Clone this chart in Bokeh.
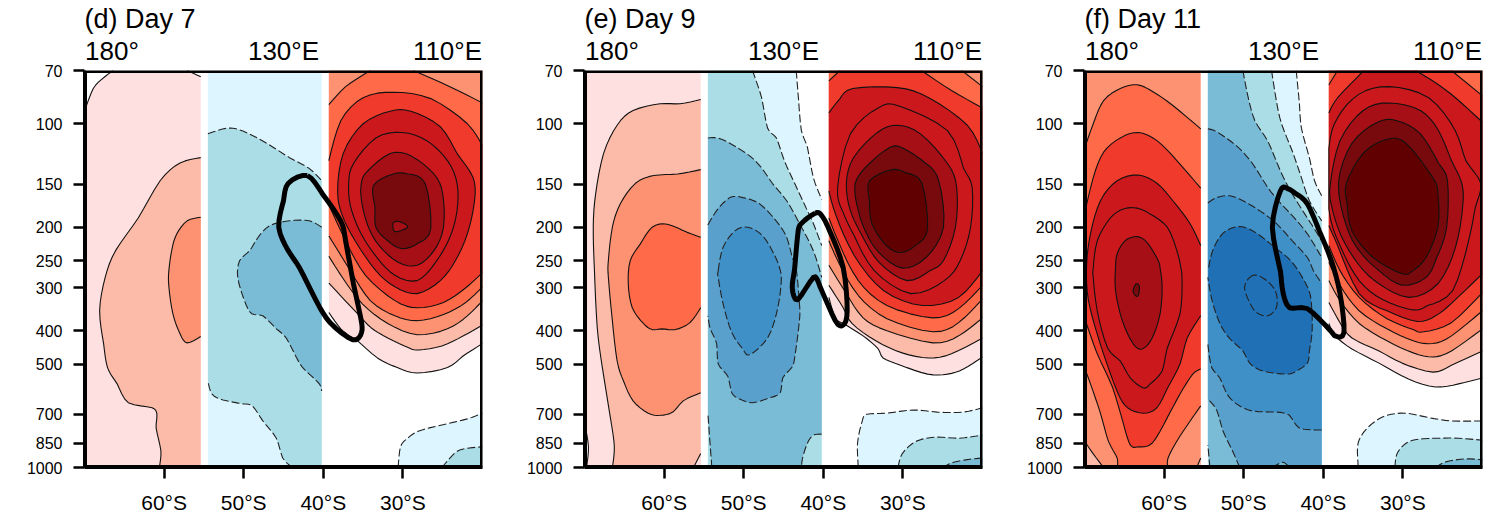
import numpy as np
from bokeh.plotting import figure
from bokeh.layouts import row
from bokeh.models import BoxAnnotation, FixedTicker, LinearAxis, Range1d
from bokeh.embed import file_html
from bokeh.resources import INLINE

# ---------- axes ----------
LAT_TICKS = [-60, -50, -40, -30]
LAT_LABELS = ["60°S", "50°S", "40°S", "30°S"]
P_TICKS = [70, 100, 150, 200, 250, 300, 400, 500, 700, 850, 1000]
TITLES = ["(d) Day 7", "(e) Day 9", "(f) Day 11"]
TOP_LABELS = ["180°", "130°E", "110°E"]
TOP_LATS = [-66.55, -45, -24.4]

COLORS = {"W": "#FFFFFF",
          "R1": "#FFE0E0", "R2": "#FCBBA8", "R3": "#FC9272", "R4": "#FF6A48", "R5": "#F03B2C",
          "R6": "#CB181D", "R7": "#CB181D", "R8": "#A50F15", "R9": "#780A0E", "R10": "#600000",
          "B1": "#DDF5FF", "B2": "#ABDDE6", "B3": "#7ABCD6", "B4": "#5AA0CC", "B5": "#4090C8", "B6": "#2070B5"}
ZONES = {"L": (-70.0, -55.4), "M": (-54.5, -40.2), "R": (-39.3, -20.0)}

# ---------- panel (d): contours as (latitude, hPa) ----------
d_w1 = [(-70, 92), (-68.9, 79), (-67.6, 73.5), (-66.4, 70)]
d_w2 = [(-57.1, 70), (-55.4, 73)]
d_l2 = [(-55.4, 125.5), (-58, 130), (-60.5, 146.5), (-63.25, 188), (-66.1, 234), (-67.4, 280), (-68.1, 350),
        (-67.6, 436), (-67.1, 513), (-65.9, 571), (-64.5, 648), (-61.5, 670), (-60.9, 706), (-61, 768),
        (-60.4, 895), (-60.6, 1000)]
d_l3 = [(-55.4, 187), (-57.1, 191.6), (-58.4, 209), (-59, 231), (-59.4, 267), (-59.4, 298), (-58.9, 357),
        (-58, 408), (-57.1, 434), (-55.4, 416)]
d_m2a = [(-54.5, 107), (-52.1, 103), (-50.1, 105), (-47.1, 114), (-44.25, 125.5), (-41.75, 135), (-40.2, 146.5)]
d_m2b = [(-43.9, 1000), (-45.1, 938), (-45.9, 822), (-47.6, 732), (-48.9, 662), (-50.1, 653), (-52.6, 636),
         (-54, 611), (-54.5, 560)]
d_m3 = [(-40.2, 200), (-41.75, 191.6), (-44.25, 191.6), (-46.75, 198), (-48.25, 215), (-49.25, 234), (-50.5, 250),
        (-50.75, 280), (-49.9, 327), (-49, 357), (-47.6, 362), (-45.9, 395), (-44.6, 422), (-43, 497),
        (-41.75, 535), (-40.5, 571), (-40.2, 599)]
d_r1 = [(-39.3, 354), (-37.8, 395), (-36.3, 420), (-35.7, 428), (-33.2, 480), (-30.7, 512), (-28.2, 531),
        (-24.4, 512), (-22.4, 473), (-20, 436)]
d_r2 = [(-39.3, 291), (-35.7, 357), (-34, 392), (-31.9, 420), (-29.2, 449), (-28, 455), (-25.1, 443),
        (-22.4, 414), (-20, 385)]
d_r3 = [(-39.3, 243), (-37.6, 280), (-35.1, 334), (-31.9, 381), (-28.2, 411), (-24.4, 395), (-21.9, 362), (-20, 327)]
d_r4a = [(-39.3, 212), (-36.6, 267.5), (-34.1, 327), (-31, 362), (-28.2, 374), (-24.9, 359), (-22.1, 331), (-20, 298)]
d_r4b = [(-20, 87), (-24.1, 78), (-28.7, 70)]
d_r4c = [(-34.1, 70), (-37.2, 78), (-39.3, 88)]
d_r5a = [(-39.3, 128), (-37.8, 98), (-35, 84), (-31.2, 81), (-26.5, 84.5), (-21.9, 100), (-20, 116)]
d_r5b = [(-20, 271), (-22.1, 300), (-24.9, 331), (-28.2, 343), (-31, 327), (-34.7, 276), (-37.2, 219), (-39.3, 172)]
d_r6 = [(-38.2, 157), (-37.5, 122), (-35, 100), (-31.6, 92), (-29, 92), (-25.3, 102), (-23.2, 122), (-21.2, 143),
        (-21, 167.5), (-21.9, 209), (-23.4, 250), (-25.3, 286), (-28.2, 312), (-31, 298), (-33.4, 267.5),
        (-36, 219), (-37.6, 185)]
d_r7 = [(-36.8, 148), (-36.2, 130.5), (-33.4, 110), (-30.1, 106), (-27, 112), (-24.4, 128), (-23.2, 149), (-23.2, 179),
        (-24.1, 214), (-25.9, 253), (-28.2, 286), (-31, 276), (-33.2, 246), (-35.3, 208), (-36.6, 173)]
d_r8 = [(-35.2, 148), (-34.4, 137), (-31.6, 122), (-29, 124), (-26.1, 140), (-25, 160), (-24.9, 200), (-26.1, 234),
        (-28.2, 258), (-30.6, 253), (-33, 226), (-34.4, 198), (-35.2, 167.5)]
d_r9 = [(-33.7, 151), (-31.2, 140), (-29.4, 140), (-27.2, 149), (-26.5, 202), (-28, 222), (-30.1, 231), (-31.9, 219),
        (-33.4, 200), (-33.5, 175)]
d_blob = [(-31.2, 194), (-30.3, 193), (-29.4, 200), (-31, 206)]
d_b1 = [(-30.6, 1000), (-30.3, 870), (-29.4, 822), (-28, 783), (-25.1, 752), (-21.9, 722), (-20, 695)]
d_b2 = [(-25.1, 1000), (-23.6, 913), (-22.4, 883), (-20, 870)]
d_thick = [(-42, 141.5), (-40.1, 160), (-37.8, 192), (-37.2, 219), (-36.2, 293), (-35.3, 367), (-35.2, 405),
           (-36.3, 425), (-39.1, 380), (-40.9, 327), (-43, 262), (-44.4, 234), (-45.6, 200), (-45, 167.5), (-44.4, 149)]

# ---------- panel (e) ----------
e_w = [(-70, 740), (-69.5, 870), (-69.75, 1000)]
e_l2 = [(-55.4, 85), (-58, 87.5), (-60.5, 87.5), (-63.9, 91.5), (-65.9, 101), (-67.6, 122), (-68.6, 160), (-68.9, 200),
        (-68.75, 267.5), (-68.4, 392), (-67.75, 513), (-66.75, 716), (-66.25, 870), (-66.5, 1000)]
e_l1c = [(-55.4, 910), (-56.3, 1000)]
e_l3 = [(-55.4, 136), (-58.3, 140), (-61.3, 141.5), (-63.6, 149), (-65.5, 171), (-66.5, 200), (-67, 250), (-67, 280),
        (-66.5, 374), (-65.9, 490), (-65.1, 560), (-63.9, 640), (-62, 695), (-60.5, 705), (-58.9, 690), (-57.6, 640),
        (-55.4, 606)]
e_l4 = [(-55.4, 214), (-57.1, 207), (-59.6, 196), (-61.5, 200), (-63, 224), (-64.25, 250), (-64.5, 292), (-64, 343),
        (-62.6, 381), (-61.5, 397), (-60.25, 395), (-58.6, 397), (-56.75, 379), (-55.4, 343)]
e_m1 = [(-43.4, 70), (-43.1, 85.6), (-42.75, 104.7), (-42, 117), (-41.25, 143.5), (-40.2, 166)]
e_m2 = [(-48.9, 70), (-47.75, 84), (-47, 103), (-45.9, 110), (-44.9, 128), (-43.6, 149), (-42, 179), (-41.25, 195), (-40.2, 226)]
e_m3a = [(-54.5, 110), (-53.3, 110), (-51.75, 114), (-49.25, 124), (-47.75, 134.5), (-46.4, 149), (-44.6, 167.5),
         (-43, 195), (-41.25, 234), (-40.2, 280)]
e_m3b = [(-40.2, 800), (-41.25, 805), (-42, 850), (-42.6, 938), (-42.75, 1000)]
e_m3c = [(-54, 1000), (-54.25, 838), (-54.5, 695)]
e_m4 = [(-54.5, 197), (-53.4, 179), (-51.75, 164), (-50.1, 164), (-48, 171), (-45.9, 192), (-44.6, 214), (-43.9, 245),
        (-43.4, 264), (-43, 333), (-43, 374), (-43.6, 480), (-44, 513), (-45.1, 549), (-45.4, 606), (-46.75, 627),
        (-48.9, 648), (-50.5, 632), (-51.5, 606), (-52, 542), (-53.2, 500), (-53.4, 436), (-54.2, 395), (-54.5, 362)]
e_m5 = [(-53.2, 267.5), (-52.6, 229), (-51.1, 205), (-49.5, 200), (-47.6, 212), (-46.1, 242), (-45.4, 267.5), (-45.3, 292),
        (-45.8, 350), (-47, 420), (-49.25, 470), (-50.1, 452), (-51.5, 405), (-52.6, 333), (-53.2, 280)]
e_r1 = [(-39.3, 320), (-38.5, 367), (-37.5, 381), (-35, 414), (-33.1, 452), (-32.5, 480), (-30.3, 504), (-26.9, 535),
        (-24.4, 535), (-22.4, 517), (-20, 477)]
e_r2 = [(-39.3, 295), (-37.5, 343), (-36.4, 381), (-33.4, 428), (-30.1, 464), (-26.75, 480), (-23.9, 467), (-20, 420)]
e_r3 = [(-39.3, 258), (-37.1, 312), (-35, 367), (-32, 400), (-26.25, 434), (-23, 414), (-20, 367)]
e_r4a = [(-39.3, 219), (-37.9, 258), (-35.6, 316), (-32, 369), (-26.25, 403), (-23, 379), (-20, 323)]
e_r4b = [(-20, 78), (-22.6, 70)]
e_r5a = [(-39.3, 188), (-37.9, 226), (-35.6, 286), (-32, 338), (-26.25, 367), (-23, 345), (-20, 295)]
e_r5b = [(-20, 90), (-23.9, 80), (-27.7, 70)]
e_r5c = [(-37.9, 70), (-39.3, 75)]
e_r6a = [(-39.3, 93), (-37.9, 84.5), (-36.3, 79), (-30.7, 78.5), (-26.75, 84), (-21.9, 101), (-20, 122)]
e_r6b = [(-20, 267.5), (-23, 320), (-27.5, 338), (-32.4, 306), (-36.1, 242), (-38.4, 185), (-39.3, 157)]
e_r7 = [(-38.2, 153), (-36.6, 107), (-33, 89.7), (-30.4, 89), (-24.4, 104.7), (-22.4, 134.5), (-21.3, 153), (-21.5, 200),
        (-22.8, 250), (-24.8, 286), (-29, 312), (-33.6, 267.5), (-36.1, 212), (-37.6, 179)]
e_r8 = [(-37.1, 149), (-36.2, 125.5), (-33.2, 106), (-30.7, 101), (-27.8, 107), (-24.4, 130.5), (-23.25, 153), (-23.4, 200),
        (-24.9, 250), (-26.6, 267.5), (-29.5, 286), (-33, 253), (-35.1, 212), (-36.6, 179)]
e_r9 = [(-36, 149), (-34.2, 130.5), (-31.7, 117.5), (-30.1, 117.5), (-27.1, 130.5), (-25.5, 146.5), (-24.9, 200), (-27.1, 245),
        (-30.1, 263), (-33, 237), (-34.6, 208), (-35.6, 179)]
e_r10 = [(-34.2, 146.5), (-31.4, 136), (-29.6, 139), (-27.6, 149), (-26.9, 202), (-28.2, 224), (-30.2, 237), (-32.1, 226),
         (-33.9, 195), (-34.2, 167.5)]
e_b1 = [(-35.6, 1000), (-35.7, 850), (-35.1, 732), (-34.5, 700), (-32, 695), (-28.7, 680), (-25.7, 690), (-22.4, 690), (-20, 670)]
e_b2 = [(-30.6, 1000), (-30.1, 913), (-28.3, 838), (-25.7, 816), (-23, 822), (-20, 805)]
e_b3 = [(-25, 1000), (-23.9, 970), (-22.1, 950), (-20, 938)]
e_thick = [(-41, 182), (-42.75, 195), (-43.2, 209), (-43.6, 264), (-43.9, 300), (-43.2, 325), (-41.25, 280), (-40.4, 298),
           (-38.5, 374), (-37.5, 385), (-37, 350), (-37.5, 262), (-39.2, 205), (-40.2, 185)]

# ---------- panel (f) ----------
f_l2a = [(-70, 838), (-68.9, 913), (-67.6, 1000)]
f_l2b = [(-55.4, 938), (-55.9, 1000)]
f_l4a = [(-70, 118), (-68.9, 100), (-67.6, 85.6), (-65.5, 79), (-63.4, 77), (-61.4, 80.7), (-58.9, 88.5), (-55.4, 103.5)]
f_l4b = [(-55.4, 662), (-58, 810), (-59.5, 938), (-59.5, 1000)]
f_l4c = [(-65.9, 1000), (-65.9, 938), (-67, 838), (-68, 695), (-69.25, 571), (-70, 513)]
f_l5a = [(-70, 183), (-68.9, 143.5), (-67.6, 121), (-65.5, 110), (-63.25, 106), (-60.9, 112), (-58.4, 128), (-55.4, 154)]
f_l5b = [(-55.4, 517), (-56.4, 535), (-58, 611), (-59.6, 716), (-61.5, 850), (-63.25, 870), (-64.25, 860), (-65.1, 748),
         (-66.5, 583), (-68.4, 467), (-70, 367)]
f_l6 = [(-55.4, 226), (-56.75, 195), (-58.9, 167.5), (-60.9, 149), (-63.25, 141), (-65.9, 146.5), (-68, 167.5), (-69.25, 209),
        (-69.75, 262), (-69.5, 327), (-68.25, 420), (-67, 513), (-65.75, 611), (-64.6, 670), (-62.6, 695), (-60.9, 670),
        (-59.5, 583), (-58, 500), (-57.1, 420), (-55.4, 362)]
f_l7 = [(-68.9, 263), (-68.4, 219), (-66.75, 188), (-65.1, 177), (-63.4, 176), (-61.75, 183), (-59.6, 200), (-58.4, 234),
        (-57.9, 262), (-57.75, 286), (-58, 357), (-59.6, 449), (-60.25, 524), (-61.75, 571), (-62.6, 587), (-64.25, 549),
        (-65.5, 490), (-67.1, 449), (-68.4, 350), (-68.9, 280)]
f_l8 = [(-66.1, 263), (-65.9, 239), (-64.9, 219), (-63.4, 213), (-62.1, 222), (-60.75, 250), (-60.5, 264), (-60.25, 298),
        (-60.5, 357), (-61.5, 420), (-62.75, 452), (-63.9, 436), (-65.25, 374), (-66.1, 306)]
f_l9 = [(-63.5, 292), (-63.1, 298), (-63.25, 316), (-63.6, 316), (-63.9, 306)]
f_m1 = [(-43.4, 70), (-43, 87.5), (-42.75, 103), (-41.75, 125.5), (-41.1, 146.5), (-40.2, 162)]
f_m2 = [(-46.5, 70), (-45.9, 85.6), (-45.25, 100), (-43.9, 120), (-42.75, 143.5), (-41.75, 167.5), (-40.2, 191.6)]
f_m3a = [(-50.1, 70), (-49.5, 82.5), (-48.6, 98), (-47, 112), (-45.4, 137), (-43.9, 160), (-42, 188), (-41.25, 200), (-40.2, 219)]
f_m3b = [(-54.25, 1000), (-54.5, 860)]
f_m4a = [(-54.5, 103.5), (-53.4, 105.5), (-50.9, 116), (-48.9, 130.5), (-47, 153), (-45.4, 170), (-43.9, 185), (-42, 209), (-40.2, 245)]
f_m4b = [(-50.5, 1000), (-51.4, 895), (-52.6, 783), (-53.4, 680), (-54.5, 632)]
f_m3c = [(-46.4, 1000), (-45.1, 965), (-44.25, 1000)]
f_m5a = [(-54.5, 170), (-53.4, 164), (-51.75, 162), (-50.1, 167.5), (-48, 179), (-45.9, 195), (-43.9, 219), (-42, 245),
         (-41.25, 267.5), (-40.2, 291)]
f_m5b = [(-40.2, 778), (-43, 768), (-44.25, 705), (-45.9, 690), (-48.9, 685), (-50.9, 653), (-52.1, 611), (-53, 549),
         (-54, 513), (-54.4, 458), (-54.5, 436)]
f_m6 = [(-54.4, 262), (-53.9, 234), (-52.6, 208), (-50.5, 199), (-48.4, 208), (-46.1, 229), (-43.9, 253), (-42, 298),
        (-41.5, 333), (-41.4, 400), (-41.75, 458), (-42, 497), (-43.4, 524), (-44.6, 535), (-47.6, 524), (-49.25, 497),
        (-50.1, 458), (-51.75, 422), (-53, 381), (-54, 325), (-54.5, 280)]
f_m7 = [(-49.25, 280), (-48.25, 276), (-46.75, 291), (-45.9, 312), (-45.9, 343), (-47, 362), (-48.4, 354), (-49.25, 331), (-49.9, 300)]
f_r1 = [(-39.3, 381), (-38.5, 414), (-36.4, 452), (-33, 497), (-29.3, 553), (-25.9, 583), (-23, 571), (-20, 549)]
f_r2 = [(-39.3, 331), (-37.9, 379), (-36.4, 420), (-33, 458), (-30.1, 497), (-26.25, 528), (-23.9, 504), (-20, 458)]
f_r3 = [(-39.3, 286), (-37.9, 327), (-35.5, 381), (-32, 428), (-28.7, 464), (-26.25, 477), (-23.9, 458), (-20, 395)]
f_r4 = [(-39.3, 253), (-37.9, 295), (-35.5, 350), (-32, 395), (-28.7, 428), (-26.25, 436), (-23.9, 414), (-20, 350)]
f_r5a = [(-39.3, 226), (-37.9, 267.5), (-35.5, 320), (-32, 369), (-28.7, 397), (-27.4, 403), (-23.9, 379), (-20, 310)]
f_r5b = [(-20, 83), (-23.9, 70)]
f_r5c = [(-38.2, 70), (-39.3, 77)]
f_r6a = [(-39.3, 93), (-38.2, 84), (-34.9, 70)]
f_r6b = [(-28.4, 70), (-25.9, 76), (-23.4, 84), (-20, 99)]
f_r6c = [(-20, 273), (-23.9, 333), (-25.9, 362), (-28.2, 376), (-32, 350), (-35.5, 312), (-38.2, 226), (-39.3, 198)]
f_r7 = [(-39.3, 118), (-38.2, 96), (-35.5, 82), (-31.75, 78), (-26.75, 84), (-23.4, 105), (-22.1, 128), (-20.2, 149),
        (-20.9, 175), (-21.75, 219), (-23.75, 306), (-26.9, 338), (-28.75, 348), (-32.5, 325), (-35.5, 286), (-37.9, 226), (-39.3, 177)]
f_r8 = [(-39.1, 149), (-37.9, 112), (-35, 91.5), (-31.75, 87), (-27.8, 91.5), (-25.5, 105), (-23.9, 128), (-22.6, 149),
        (-22.5, 175), (-23.4, 229), (-25.6, 292), (-29.25, 320), (-33, 292), (-35.5, 258), (-37.75, 212), (-39, 172)]
f_r9 = [(-38.1, 149), (-36.4, 114), (-33.2, 99), (-30.75, 98), (-27.8, 107), (-25.5, 130.5), (-24.4, 146.5), (-24.5, 200),
        (-25.75, 245), (-27.1, 280), (-30.1, 295), (-33, 267.5), (-35.5, 234), (-37.1, 198)]
f_r10 = [(-37.1, 149), (-35, 122), (-32, 111), (-29.6, 114), (-26.25, 143.5), (-25.6, 160), (-25.6, 200), (-27.1, 245),
         (-28.75, 267.5), (-30.1, 273), (-33.75, 245), (-36.4, 205), (-37, 171)]
f_b1 = [(-35.6, 1000), (-35.7, 870), (-35.1, 800), (-33.75, 742), (-32, 705), (-29.6, 695), (-26.75, 716), (-23.9, 732), (-20, 732)]
f_b2 = [(-31, 1000), (-30.75, 913), (-29.6, 850), (-28, 827), (-25.5, 822), (-23, 822), (-20, 833)]
f_b3 = [(-25.9, 1000), (-24.6, 963), (-22.1, 944), (-20, 950)]
f_thick = [(-44.6, 154), (-45.4, 157), (-46.4, 200), (-45.4, 267.5), (-45.1, 306), (-44.25, 343), (-42, 345), (-39.1, 400),
           (-38.5, 414), (-37.4, 405), (-37.9, 312), (-39, 250), (-40.5, 205), (-42, 171), (-43.4, 160)]

# ---------- drawing order: (colour, zone, path, closed ring?) ----------
PANEL_D = dict(bg={"L": "R1", "M": "B1"}, thick=d_thick, layers=[
    ("W", "L", [d_w1, "TL"], 0), ("W", "L", [d_w2, "TR"], 0),
    ("R2", "L", [d_l2, "BR"], 0), ("R3", "L", [d_l3], 0),
    ("B2", "M", [d_m2a, "BR", d_m2b], 0), ("B3", "M", [d_m3], 0),
    ("R1", "R", [d_r1, "TR", "TL"], 0), ("R2", "R", [d_r2, "TR", "TL"], 0), ("R3", "R", [d_r3, "TR", "TL"], 0),
    ("R4", "R", [d_r4a, d_r4b, d_r4c], 0), ("R5", "R", [d_r5a, d_r5b], 0),
    ("R6", "R", [d_r6], 1), ("R7", "R", [d_r7], 1), ("R8", "R", [d_r8], 1), ("R9", "R", [d_r9], 1), ("R8", "R", [d_blob], 1),
    ("B1", "R", [d_b1, "BR"], 0), ("B2", "R", [d_b2, "BR"], 0)])
PANEL_E = dict(bg={"L": "R1"}, thick=e_thick, layers=[
    ("W", "L", [e_w, "BL"], 0), ("R2", "L", [e_l2, "BR"], 0), ("R1", "L", [e_l1c, "BR"], 0),
    ("R3", "L", [e_l3], 0), ("R4", "L", [e_l4], 0),
    ("B1", "M", [e_m1, "BR", "BL", "TL"], 0), ("B2", "M", [e_m2, "BR", "BL", "TL"], 0),
    ("B3", "M", [e_m3a, e_m3b, e_m3c], 0), ("B4", "M", [e_m4], 0), ("B5", "M", [e_m5], 1),
    ("R1", "R", [e_r1, "TR", "TL"], 0), ("R2", "R", [e_r2, "TR", "TL"], 0), ("R3", "R", [e_r3, "TR", "TL"], 0),
    ("R4", "R", [e_r4a, e_r4b, "TL"], 0), ("R5", "R", [e_r5a, e_r5b, e_r5c], 0), ("R6", "R", [e_r6a, e_r6b], 0),
    ("R7", "R", [e_r7], 1), ("R8", "R", [e_r8], 1), ("R9", "R", [e_r9], 1), ("R10", "R", [e_r10], 1),
    ("B1", "R", [e_b1, "BR"], 0), ("B2", "R", [e_b2, "BR"], 0), ("B3", "R", [e_b3, "BR"], 0)])
PANEL_F = dict(bg={"L": "R3"}, thick=f_thick, layers=[
    ("R2", "L", [f_l2a, "BL"], 0), ("R2", "L", [f_l2b, "BR"], 0),
    ("R4", "L", [f_l4a, f_l4b, f_l4c], 0), ("R5", "L", [f_l5a, f_l5b], 0), ("R6", "L", [f_l6], 0),
    ("R7", "L", [f_l7], 1), ("R8", "L", [f_l8], 1), ("R9", "L", [f_l9], 1),
    ("B1", "M", [f_m1, "BR", "BL", "TL"], 0), ("B2", "M", [f_m2, "BR", "BL", "TL"], 0),
    ("B3", "M", [f_m3a, "BR", f_m3b, "TL"], 0), ("B4", "M", [f_m4a, "BR", f_m4b], 0), ("B3", "M", [f_m3c], 0),
    ("B5", "M", [f_m5a, f_m5b], 0), ("B6", "M", [f_m6], 0), ("B6", "M", [f_m7], 1),
    ("R1", "R", [f_r1, "TR", "TL"], 0), ("R2", "R", [f_r2, "TR", "TL"], 0), ("R3", "R", [f_r3, "TR", "TL"], 0),
    ("R4", "R", [f_r4, "TR", "TL"], 0), ("R5", "R", [f_r5a, f_r5b, f_r5c], 0), ("R6", "R", [f_r6a, f_r6b, f_r6c], 0),
    ("R7", "R", [f_r7], 1), ("R8", "R", [f_r8], 1), ("R9", "R", [f_r9], 1), ("R10", "R", [f_r10], 1),
    ("B1", "R", [f_b1, "BR"], 0), ("B2", "R", [f_b2, "BR"], 0), ("B3", "R", [f_b3, "BR"], 0)])


def round_off(pts, closed, passes=2):
    """Curve through the hand-read outline points (four-point subdivision in lat / log p)."""
    a = np.column_stack([[q[0] for q in pts], np.log10([q[1] for q in pts])])
    for _ in range(passes):
        if closed:
            p0, p1, p2, p3 = np.roll(a, 1, axis=0), a, np.roll(a, -1, axis=0), np.roll(a, -2, axis=0)
            mid = (-p0 + 9 * p1 + 9 * p2 - p3) / 16
            a = np.column_stack([a, mid]).reshape(-1, 2)
        elif len(a) > 2:
            pad = np.vstack([2 * a[0] - a[1], a, 2 * a[-1] - a[-2]])
            mid = (-pad[:-3] + 9 * pad[1:-2] + 9 * pad[2:-1] - pad[3:]) / 16
            out = np.zeros((2 * len(a) - 1, 2))
            out[0::2] = a
            out[1::2] = mid
            a = out
    return a[:, 0], np.minimum(10 ** a[:, 1], 1000.0)


def make_panel(idx, panel, width):
    p = figure(width=width, height=516, output_backend="svg", toolbar_location=None,
               x_range=Range1d(-70, -20), y_range=Range1d(1000, 70), y_axis_type="log",
               min_border_left=84, min_border_right=width - 482, min_border_top=70, min_border_bottom=49,
               background_fill_color="white", border_fill_color="white")
    p.grid.visible = False
    p.outline_line_color = None

    # flat background of each longitude band
    for key, col in panel["bg"].items():
        p.quad(left=ZONES[key][0], right=ZONES[key][1], top=70, bottom=1000, fill_color=COLORS[col], line_color=None)

    fx, fy, fc = [], [], []
    solid_x, solid_y, dash_x, dash_y = [], [], [], []
    for col, zone, path, closed in panel["layers"]:
        z0, z1 = ZONES[zone]
        corners = {"TL": (z0, 70.0), "TR": (z1, 70.0), "BL": (z0, 1000.0), "BR": (z1, 1000.0)}
        xs, ys = [], []
        for item in path:
            if isinstance(item, str):
                xs.append(corners[item][0]); ys.append(corners[item][1])
            else:
                lx, ly = round_off(item, bool(closed))
                lx = np.clip(lx, z0, z1)
                xs.extend(lx.tolist()); ys.extend(ly.tolist())
                if closed:
                    lx = np.append(lx, lx[0]); ly = np.append(ly, ly[0])
                if col.startswith("B"):
                    dash_x.append(lx.tolist()); dash_y.append(ly.tolist())
                else:
                    solid_x.append(lx.tolist()); solid_y.append(ly.tolist())
        fx.append(xs); fy.append(ys); fc.append(COLORS[col])
    p.patches(fx, fy, fill_color=fc, line_color=None)
    p.multi_line(solid_x, solid_y, line_color="#111111", line_width=1.1)
    p.multi_line(dash_x, dash_y, line_color="#222222", line_width=1.1, line_dash="8 3")

    tx, ty = round_off(panel["thick"], True, passes=2)
    p.line(np.append(tx, tx[0]), np.append(ty, ty[0]), line_color="black", line_width=5, line_join="round")

    ax = p.xaxis[0]
    ax.ticker = FixedTicker(ticks=LAT_TICKS)
    ax.major_label_overrides = dict(zip(LAT_TICKS, LAT_LABELS))
    ay = p.yaxis[0]
    ay.ticker = FixedTicker(ticks=P_TICKS)
    ay.major_label_overrides = {t: str(t) for t in P_TICKS}
    for a, size, standoff in ((ax, "21px", 12), (ay, "16px", 11)):
        a.axis_line_color = "black"
        a.axis_line_width = 3
        a.major_tick_line_color = "black"
        a.major_tick_line_width = 2.5
        a.major_tick_in = 0
        a.major_tick_out = 11
        a.minor_tick_line_color = None
        a.major_label_text_font = "Liberation Sans"
        a.major_label_text_font_size = size
        a.major_label_text_color = "black"
        a.major_label_standoff = standoff

    top = LinearAxis(ticker=FixedTicker(ticks=TOP_LATS), major_label_overrides=dict(zip(TOP_LATS, TOP_LABELS)),
                     axis_line_color=None, major_tick_line_color=None, minor_tick_line_color=None,
                     major_tick_in=0, major_tick_out=0, major_label_standoff=5,
                     major_label_text_font="Liberation Sans", major_label_text_font_size="26px",
                     major_label_text_color="black")
    p.add_layout(top, "above")
    # frame on top of the filled contours (the frame clips the outer half of this stroke)
    p.add_layout(BoxAnnotation(left=-70, right=-20, top=70, bottom=1000, fill_alpha=0, fill_color=None,
                               line_color="black", line_width=5, line_alpha=1, level="overlay"))
    p.title.text = TITLES[idx]
    p.title.align = "left"
    p.title.offset = 0
    p.title.standoff = -2
    p.title.text_font = "Liberation Sans"
    p.title.text_font_style = "normal"
    p.title.text_font_size = "27px"
    p.title.text_color = "black"
    return p


figs = [make_panel(0, PANEL_D, 500), make_panel(1, PANEL_E, 500), make_panel(2, PANEL_F, 494)]
page = row(*figs, spacing=0)
open("out.html", "w").write(file_html(page, INLINE))
